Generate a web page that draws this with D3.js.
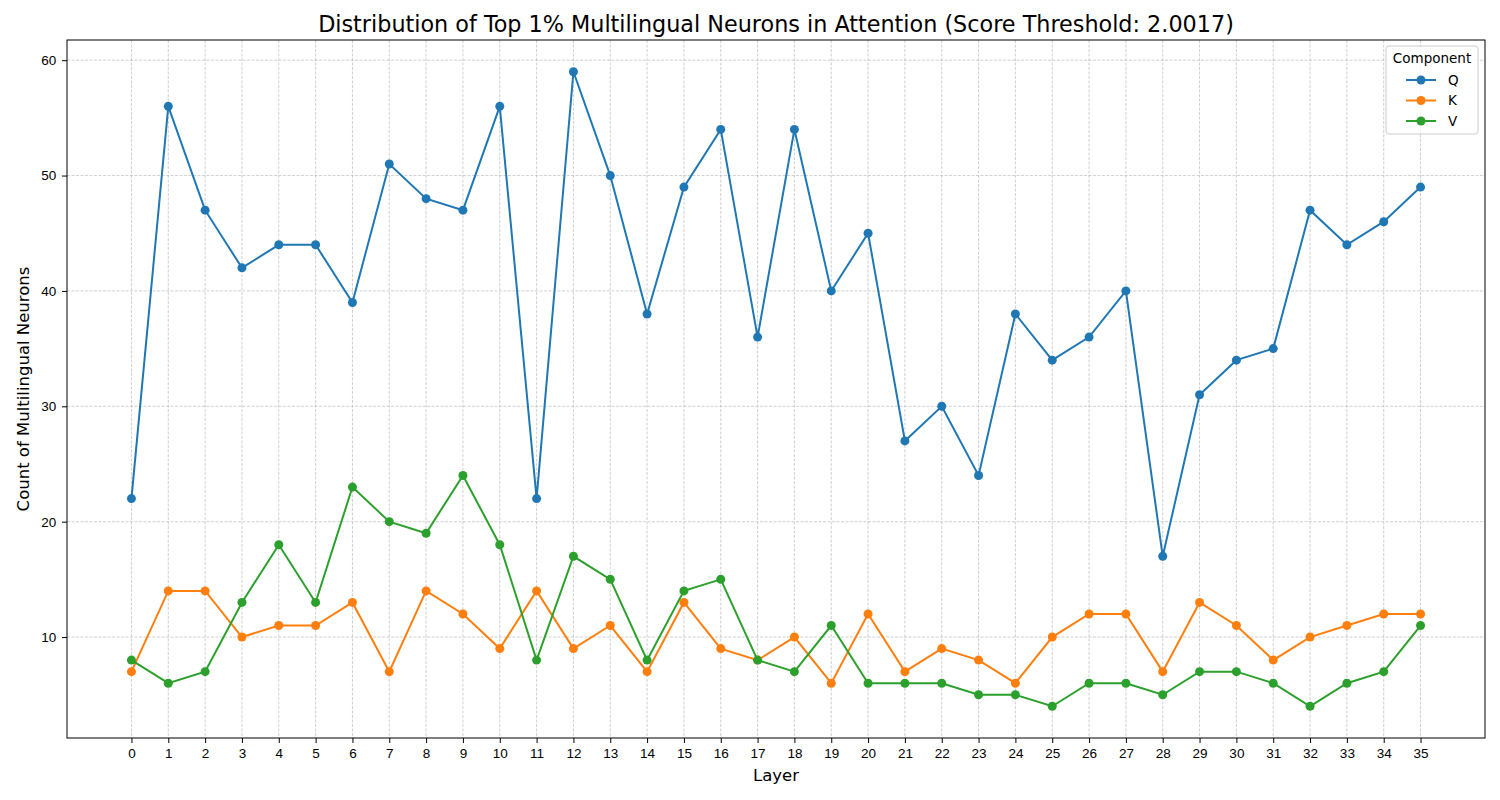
<!DOCTYPE html>
<html>
<head>
<meta charset="utf-8">
<script src="https://cdn.jsdelivr.net/npm/d3@7"></script>
<style>
  body { margin: 0; background: #fff; }
  svg { font-family: "DejaVu Sans", sans-serif; }
</style>
</head>
<body>
<svg id="chart" width="1500" height="800"></svg>
<script>
const layers = d3.range(36);
const qValues = [22,56,47,42,44,44,39,51,48,47,56,22,59,50,38,49,54,36,54,40,45,27,30,24,38,34,36,40,17,31,34,35,47,44,46,49];
const kValues = [7,14,14,10,11,11,13,7,14,12,9,14,9,11,7,13,9,8,10,6,12,7,9,8,6,10,12,12,7,13,11,8,10,11,12,12];
const vValues = [8,6,7,13,18,13,23,20,19,24,18,8,17,15,8,14,15,8,7,11,6,6,6,5,5,4,6,6,5,7,7,6,4,6,7,11];
const seriesNames = ["Q", "K", "V"];
const seriesColors = ["#1f77b4", "#ff7f0e", "#2ca02c"];
const yTicks = [10, 20, 30, 40, 50, 60];

const series = [qValues, kValues, vValues].map((vals, i) => ({
  name: seriesNames[i],
  color: seriesColors[i],
  values: vals.map((v, j) => ({ layer: layers[j], value: v }))
}));

const margin = { top: 40, right: 15, bottom: 62, left: 67 };
const width = 1500, height = 800;

const svg = d3.select("#chart");

const x = d3.scaleLinear()
  .domain([-1.75, 36.75])
  .range([margin.left, width - margin.right]);

const y = d3.scaleLinear()
  .domain([1.25, 61.75])
  .range([height - margin.bottom, margin.top]);

// Grid
const grid = svg.append("g").attr("class", "grid");
grid.selectAll("line.vx")
  .data(layers)
  .join("line")
  .attr("x1", d => x(d)).attr("x2", d => x(d))
  .attr("y1", margin.top).attr("y2", height - margin.bottom)
  .attr("stroke", "#b0b0b0").attr("stroke-width", 0.6)
  .attr("stroke-dasharray", "3,1.5");
grid.selectAll("line.hy")
  .data(yTicks)
  .join("line")
  .attr("x1", margin.left).attr("x2", width - margin.right)
  .attr("y1", d => y(d)).attr("y2", d => y(d))
  .attr("stroke", "#b0b0b0").attr("stroke-width", 0.6)
  .attr("stroke-dasharray", "3,1.5");

// Axes
const xAxis = svg.append("g")
  .attr("transform", `translate(0,${height - margin.bottom})`)
  .call(d3.axisBottom(x).tickValues(layers).tickFormat(d3.format("d")).tickSize(5).tickSizeOuter(0));
const yAxis = svg.append("g")
  .attr("transform", `translate(${margin.left},0)`)
  .call(d3.axisLeft(y).tickValues(yTicks).tickFormat(d3.format("d")).tickSize(5).tickSizeOuter(0));

[xAxis, yAxis].forEach(a => {
  a.select(".domain").remove();
  a.selectAll("text").style("font-size", "13.5px").attr("fill", "#000");
  a.selectAll(".tick line").attr("stroke", "#000");
});
xAxis.selectAll("text").attr("dy", "0.9em");
yAxis.selectAll("text").attr("dx", "-0.2em");

// Frame
svg.append("rect")
  .attr("x", margin.left).attr("y", margin.top)
  .attr("width", width - margin.left - margin.right)
  .attr("height", height - margin.top - margin.bottom)
  .attr("fill", "none").attr("stroke", "#000").attr("stroke-width", 1);

// Lines and markers
const line = d3.line().x(d => x(d.layer)).y(d => y(d.value));

const groups = svg.append("g")
  .selectAll("g.series")
  .data(series)
  .join("g")
  .attr("class", "series");

groups.append("path")
  .attr("d", d => line(d.values))
  .attr("fill", "none")
  .attr("stroke", d => d.color)
  .attr("stroke-width", 2);

groups.selectAll("circle")
  .data(d => d.values.map(v => ({ ...v, color: d.color })))
  .join("circle")
  .attr("cx", d => x(d.layer))
  .attr("cy", d => y(d.value))
  .attr("r", 4.5)
  .attr("fill", d => d.color);

// Titles
svg.append("text")
  .attr("x", (margin.left + width - margin.right) / 2)
  .attr("y", 32)
  .attr("text-anchor", "middle")
  .style("font-size", "22.3px")
  .text("Distribution of Top 1% Multilingual Neurons in Attention (Score Threshold: 2.0017)");

svg.append("text")
  .attr("x", (margin.left + width - margin.right) / 2)
  .attr("y", 781)
  .attr("text-anchor", "middle")
  .style("font-size", "16.5px")
  .text("Layer");

svg.append("text")
  .attr("transform", `translate(29,${(margin.top + height - margin.bottom) / 2}) rotate(-90)`)
  .attr("text-anchor", "middle")
  .style("font-size", "16.5px")
  .text("Count of Multilingual Neurons");

// Legend
const legend = svg.append("g").attr("transform", "translate(1386,46)");
legend.append("rect")
  .attr("width", 92).attr("height", 88).attr("rx", 3)
  .attr("fill", "#fff").attr("fill-opacity", 0.8)
  .attr("stroke", "#ccc");
legend.append("text")
  .attr("x", 46).attr("y", 17)
  .attr("text-anchor", "middle")
  .style("font-size", "13.5px")
  .text("Component");
const items = legend.selectAll("g.item")
  .data(series)
  .join("g")
  .attr("transform", (d, i) => `translate(0,${34 + i * 20.5})`);
items.append("line")
  .attr("x1", 20).attr("x2", 50)
  .attr("stroke", d => d.color).attr("stroke-width", 2);
items.append("circle")
  .attr("cx", 35).attr("r", 4.5)
  .attr("fill", d => d.color);
items.append("text")
  .attr("x", 62).attr("dy", "0.35em")
  .style("font-size", "13.5px")
  .text(d => d.name);
</script>
</body>
</html>
